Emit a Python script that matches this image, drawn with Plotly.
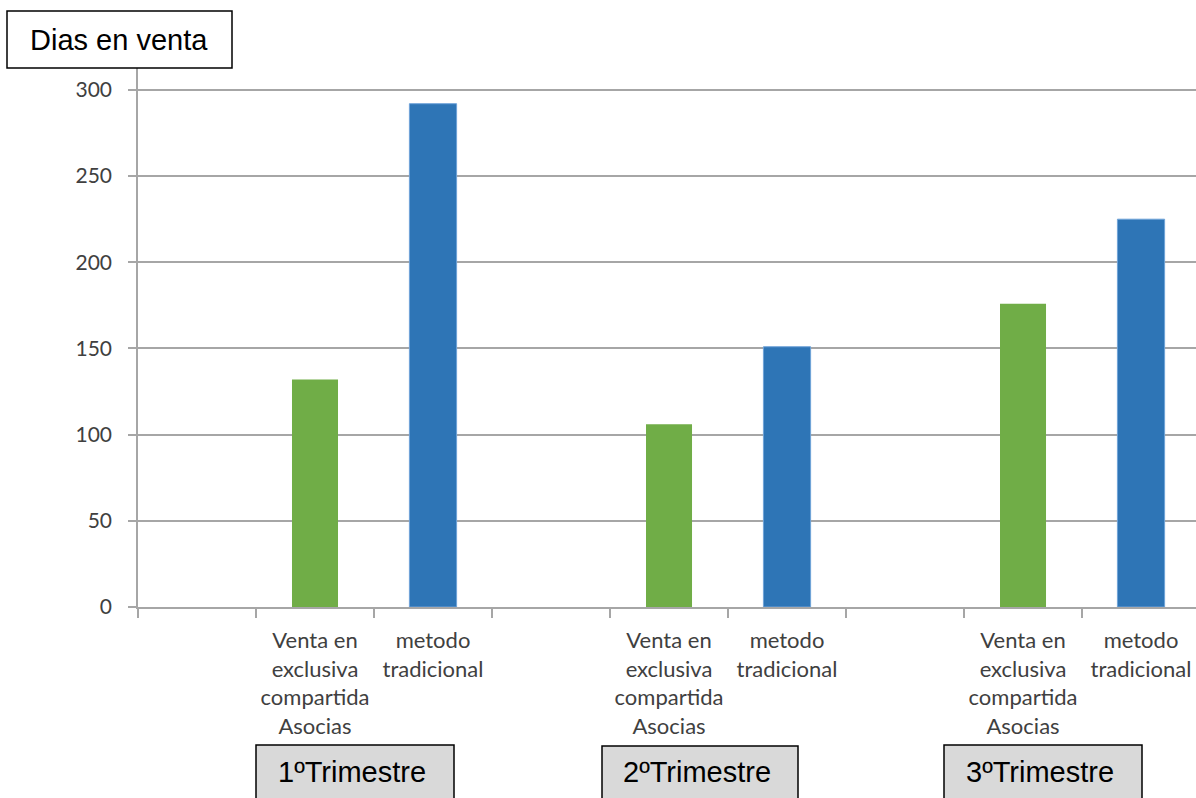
import plotly.graph_objects as go

# ---- data ----
trimestres = ["1ºTrimestre", "2ºTrimestre", "3ºTrimestre"]
label_venta = "Venta en<br>exclusiva<br>compartida<br>Asocias"
label_metodo = "metodo<br>tradicional"
venta_exclusiva = [132, 106, 176]
metodo_tradicional = [292, 151, 225]
y_ticks = [0, 50, 100, 150, 200, 250, 300]
y_title = "Dias en venta"

# ---- categories (an empty slot before each pair) ----
cat_ids, cat_text = [], []
for t in trimestres:
    cat_ids += [t + " vacío", t + " venta", t + " metodo"]
    cat_text += ["", label_venta, label_metodo]

W, H = 1196, 798
L, R, T, B = 138, 0, 62, 191
PW, PH = W - L - R, H - T - B


def px_x(X):
    return (X - L) / PW


def px_y(Y):
    return (H - B - Y) / PH


fig = go.Figure()
fig.add_bar(
    x=[t + " venta" for t in trimestres], y=venta_exclusiva, width=0.39,
    marker=dict(color="#70ad47", line=dict(width=0)), hoverinfo="y",
)
fig.add_bar(
    x=[t + " metodo" for t in trimestres], y=metodo_tradicional, width=0.40,
    marker=dict(color="#2e75b6", line=dict(color="#6fa3d8", width=1)), hoverinfo="y",
)

grid = "#a6a6a6"
fig.update_layout(
    width=W, height=H, autosize=False,
    margin=dict(l=L, r=R, t=T, b=B, pad=0),
    paper_bgcolor="white", plot_bgcolor="white",
    barmode="overlay", showlegend=False,
    font=dict(family="Lato, Open Sans, sans-serif", color="#404040"),
)
fig.update_xaxes(
    type="category", categoryorder="array", categoryarray=cat_ids,
    tickmode="array", tickvals=cat_ids, ticktext=cat_text,
    tickson="boundaries", ticks="outside", ticklen=9, tickwidth=1.5, tickcolor=grid,
    showline=True, linecolor=grid, linewidth=1.5, showgrid=False, zeroline=False,
    range=[-0.5, 8.466], tickfont=dict(size=22, color="#404040"),
    tickangle=0, automargin=False, ticklabelstandoff=13,
)
fig.update_yaxes(
    range=[0, 316.2], tickmode="array", tickvals=y_ticks,
    ticks="outside", ticklen=8, tickwidth=1.5, tickcolor=grid,
    showline=True, linecolor=grid, linewidth=1.5, automargin=False,
    showgrid=True, gridcolor=grid, gridwidth=1.5, zeroline=False,
    tickfont=dict(size=21, color="#404040"), ticklabelstandoff=12,
)

# ---- title box ----
fig.add_shape(type="rect", xref="paper", yref="paper",
              x0=px_x(7), x1=px_x(232), y0=px_y(68), y1=px_y(11),
              line=dict(color="black", width=1.5), fillcolor="white", layer="above")
fig.add_annotation(xref="paper", yref="paper", x=px_x(119), y=px_y(40),
                   text=y_title, showarrow=False, xanchor="center", yanchor="middle",
                   font=dict(family="Liberation Sans, Arial", size=29, color="black"))

# ---- trimester boxes ----
boxes = [(256, 454, 745), (602, 798, 746), (944, 1142, 745)]
for t, (x0, x1, y0) in zip(trimestres, boxes):
    fig.add_shape(type="rect", xref="paper", yref="paper",
                  x0=px_x(x0), x1=px_x(x1), y0=px_y(y0), y1=px_y(802),
                  line=dict(color="black", width=1.5), fillcolor="#d9d9d9", layer="above")
    fig.add_annotation(xref="paper", yref="paper", x=px_x((x0 + x1) / 2 - 3), y=px_y(772),
                       text=t, showarrow=False, xanchor="center", yanchor="middle",
                       font=dict(family="Liberation Sans, Arial", size=29, color="black"))

fig.write_html("out.html")
